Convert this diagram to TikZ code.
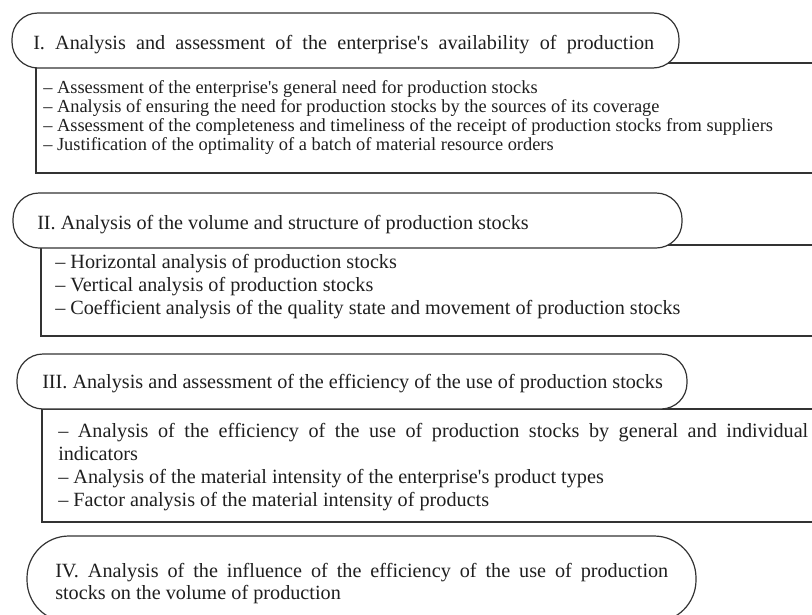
\documentclass[tikz,border=0pt]{standalone}
\usepackage{fontspec}
\setmainfont{Liberation Serif}
\usetikzlibrary{calc}

\newlength\px
\setlength\px{0.75pt}
\newcommand\ap{\textquotesingle}

\begin{document}
\begin{tikzpicture}[x=0.75pt, y=-0.75pt]
        % Text sizes (pt)
        \pgfmathsetmacro{\headsize}{15.15}
        \pgfmathsetmacro{\itemsize}{13.8}

        \tikzset{
            frame/.style={line width=0.9pt, black!80},
            headframe/.style={frame, fill=white},
            txt/.style={anchor=base west, inner sep=0pt, text=black!88,
                font=\fontsize{\headsize}{18}\selectfont},
            smalltxt/.style={txt, font=\fontsize{\itemsize}{16}\selectfont},
        }

        % Page, the boxes run out on the right
        \clip (0, 0) rectangle (812, 614);

        % Block I
        \begin{scope}
            \draw[frame] (36, 63) rectangle (840, 173);
            \draw[headframe, rounded corners=26\px] (12, 13) rectangle (679, 68);

            \node[txt] (headI) at (33, 49) {\makebox[621\px][s]{I. Analysis and
            assessment of the enterprise\ap s availability of production}};

            \node[smalltxt] (itemIa) at (43, 93) {– Assessment of the
            enterprise\ap s general need for production stocks};
            \node[smalltxt] (itemIb) at (43, 112) {– Analysis of ensuring the
            need for production stocks by the sources of its coverage};
            \node[smalltxt] (itemIc) at (43, 131) {– Assessment of the
            completeness and timeliness of the receipt of production stocks
            from suppliers};
            \node[smalltxt] (itemId) at (43, 150) {– Justification of the
            optimality of a batch of material resource orders};
        \end{scope}

        % Block II
        \begin{scope}
            \draw[frame] (41, 245) rectangle (840, 336);
            \draw[headframe, rounded corners=26\px] (13, 193) rectangle (682, 248);

            \node[txt] (headII) at (37, 229) {II. Analysis of the volume and
            structure of production stocks};

            \node[txt] (itemIIa) at (55, 268) {– Horizontal analysis of
            production stocks};
            \node[txt] (itemIIb) at (55, 291) {– Vertical analysis of
            production stocks};
            \node[txt] (itemIIc) at (55, 314) {– Coefficient analysis of the
            quality state and movement of production stocks};
        \end{scope}

        % Block III
        \begin{scope}
            \draw[frame] (42, 409) rectangle (840, 522);
            \draw[headframe, rounded corners=26\px] (17, 354) rectangle (687, 409);

            \node[txt] (headIII) at (42, 388) {III. Analysis and assessment of
            the efficiency of the use of production stocks};

            \node[txt] (itemIIIa) at (58, 437) {\makebox[750\px][s]{– Analysis
            of the efficiency of the use of production stocks by general and
            individual}};
            \node[txt] (itemIIIa2) at (58, 460) {indicators};
            \node[txt] (itemIIIb) at (58, 483) {– Analysis of the material
            intensity of the enterprise\ap s product types};
            \node[txt] (itemIIIc) at (58, 506) {– Factor analysis of the
            material intensity of products};
        \end{scope}

        % Block IV
        \begin{scope}
            \draw[headframe, rounded corners=42\px] (27, 536) rectangle (696, 622);

            \node[txt] (headIV) at (55, 577) {\makebox[613\px][s]{IV. Analysis
            of the influence of the efficiency of the use of production}};
            \node[txt] (headIVb) at (55, 599) {stocks on the volume of
            production};
        \end{scope}

\end{tikzpicture}
\end{document}
